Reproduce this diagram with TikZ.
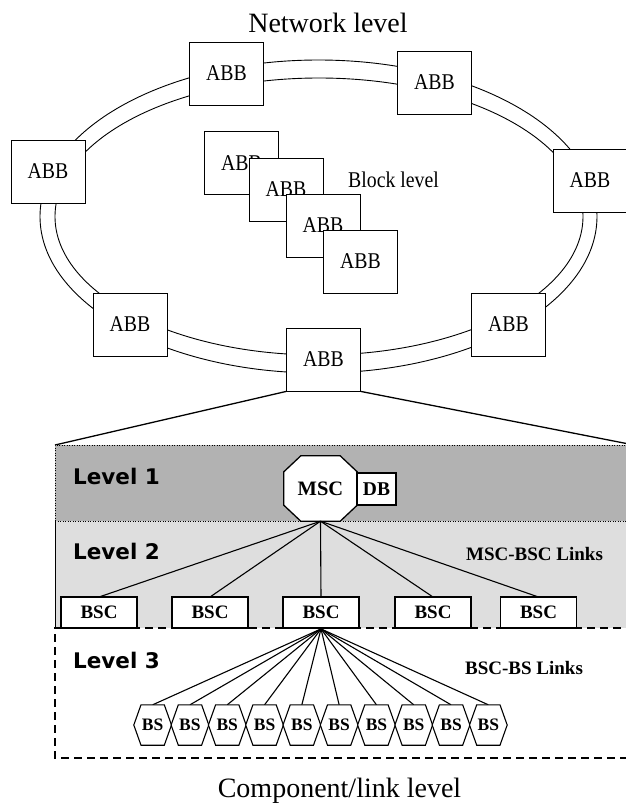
\documentclass[tikz,border=0pt]{standalone}
\usepackage{fontspec}
\setmainfont{Liberation Serif}
\newfontfamily\narrowserif[FakeStretch=0.88]{Liberation Serif}
\newfontfamily\lvlfont{DejaVu Sans}
\definecolor{bandone}{HTML}{B2B2B2}
\definecolor{bandtwo}{HTML}{DEDEDE}
\begin{document}
\begin{tikzpicture}[x=1pt,y=-1pt,
  abb/.style={draw, fill=white, line width=0.9pt, minimum width=74pt,
    minimum height=63pt, inner sep=0pt, font=\narrowserif\fontsize{22.5}{22.5}\selectfont},
  ring/.style={line width=0.9pt},
  fan/.style={line width=1.3pt},
  title/.style={font=\fontsize{28}{28}\selectfont, inner sep=0pt},
  lvl/.style={font=\lvlfont\bfseries\fontsize{21.5}{21.5}\selectfont, inner sep=0pt, anchor=base west},
  linklabel/.style={font=\bfseries\fontsize{19}{19}\selectfont, inner sep=0pt, anchor=base west},
  dotline/.style={line width=0.9pt, dash pattern=on 1pt off 1.5pt},
  dashline/.style={line width=1.6pt, dash pattern=on 8pt off 5pt},
  bscbox/.style={draw, fill=white, line width=1.8pt, minimum width=76pt,
    minimum height=31pt, inner sep=0pt, font=\bfseries\fontsize{19}{19}\selectfont},
  dbbox/.style={draw, fill=white, line width=1.4pt, minimum width=39pt,
    minimum height=32pt, inner sep=0pt, font=\bfseries\fontsize{19.5}{19.5}\selectfont},
  mscnode/.style={minimum width=73pt, minimum height=65pt, inner sep=0pt,
    font=\bfseries\fontsize{20.5}{20.5}\selectfont},
  bsnode/.style={minimum width=37.3pt, minimum height=40pt, inner sep=0pt,
    font=\bfseries\fontsize{17.5}{17.5}\selectfont},
  hexline/.style={draw, fill=white, line width=1.1pt},
  link/.style={line width=1.1pt}
]
\useasboundingbox (0,0) rectangle (626,804);
\clip (0,0) rectangle (626,804);

% ---------- network level: double ring of ABB blocks ----------
\draw[ring] (318.5,216.5) ellipse [x radius=278.5pt, y radius=156.5pt];
\draw[ring] (319,216.5) ellipse [x radius=264pt, y radius=138.5pt];

\node[title, anchor=base] (nettitle) at (328,32) {Network level};

\node[abb] (top1)  at (226.5,73.5)  {ABB};
\node[abb] (top2)  at (434.5,82.5)  {ABB};
\node[abb] (left)  at (48,171.5)    {ABB};
\node[abb] (right) at (590,180.5)   {ABB};
\node[abb] (botL)  at (130,324.5)   {ABB};
\node[abb] (botR)  at (508.5,324.5) {ABB};
\node[abb] (botC)  at (323.5,359.5) {ABB};

% ---------- block level: stacked ABB blocks ----------
\node[abb] (blk1) at (241.5,163)   {ABB};
\node[abb] (blk2) at (286,189.5)   {ABB};
\node[abb] (blk3) at (323,225.5)   {ABB};
\node[abb] (blk4) at (360.5,261.5) {ABB};
\node[font=\narrowserif\fontsize{22.5}{22.5}\selectfont, inner sep=0pt, anchor=base west]
  (blocktitle) at (348,187) {Block level};

% ---------- zoom-out into the component level ----------
\coordinate (pTL) at (55,445);
\coordinate (pTR) at (634,445);
\draw[fan] (botC.south west) -- (pTL);
\draw[fan] (botC.south east) -- (pTR);

% level bands
\fill[bandone] (55,445) rectangle (634,521);
\fill[bandtwo] (55,521) rectangle (634,628);
\draw[dotline] (55,521) -- (pTL) -- (pTR);
\draw[dotline] (55,521) -- (634,521);
\draw[line width=0.9pt] (55,521) -- (55,628);
\draw[dashline] (634,628) -- (55,628) -- (55,758) -- (634,758);

\node[lvl] (lv1) at (73,484) {Level 1};
\node[lvl] (lv2) at (73,559) {Level 2};
\node[lvl] (lv3) at (73,668) {Level 3};

\node[linklabel] (mbl) at (466,560) {MSC-BSC Links};
\node[linklabel] (bbl) at (465,674) {BSC-BS Links};

% MSC (octagon) and its database
\node[mscnode] (msc) at (320.5,488.5) {};
\draw[fill=white, line width=1.3pt]
  ([xshift=17pt]msc.north west) -- ([xshift=-17pt]msc.north east)
  -- ([yshift=-16pt]msc.north east) -- ([yshift=16pt]msc.south east)
  -- ([xshift=-17pt]msc.south east) -- ([xshift=17pt]msc.south west)
  -- ([yshift=16pt]msc.south west) -- ([yshift=-16pt]msc.north west) -- cycle;
\node[mscnode] at (msc.center) {MSC};
\node[dbbox] (db) at (376.5,489) {DB};

% BSCs
\foreach \i/\x in {1/99, 2/210, 3/321, 4/433, 5/538.5} {
  \draw[link] (msc.south) -- (\x,597);
  \node[bscbox] (bsc\i) at (\x,612.5) {BSC};
}

% BSs under the middle BSC
\foreach \i in {1,...,10} {
  \pgfmathsetmacro{\bx}{152.65+37.3*(\i-1)}
  \node[bsnode] (bs\i) at (\bx,725) {};
  \draw[link] (bsc3.south) -- (bs\i.north);
}
\foreach \i in {1,...,10} {
  \draw[hexline] (bs\i.west) -- ([xshift=7.2pt]bs\i.north west)
    -- ([xshift=-7.2pt]bs\i.north east) -- (bs\i.east)
    -- ([xshift=-7.2pt]bs\i.south east) -- ([xshift=7.2pt]bs\i.south west) -- cycle;
  \node[bsnode] at (bs\i.center) {BS};
}

\node[title, anchor=base] (comptitle) at (339.5,797) {Component/link level};
\end{tikzpicture}
\end{document}
